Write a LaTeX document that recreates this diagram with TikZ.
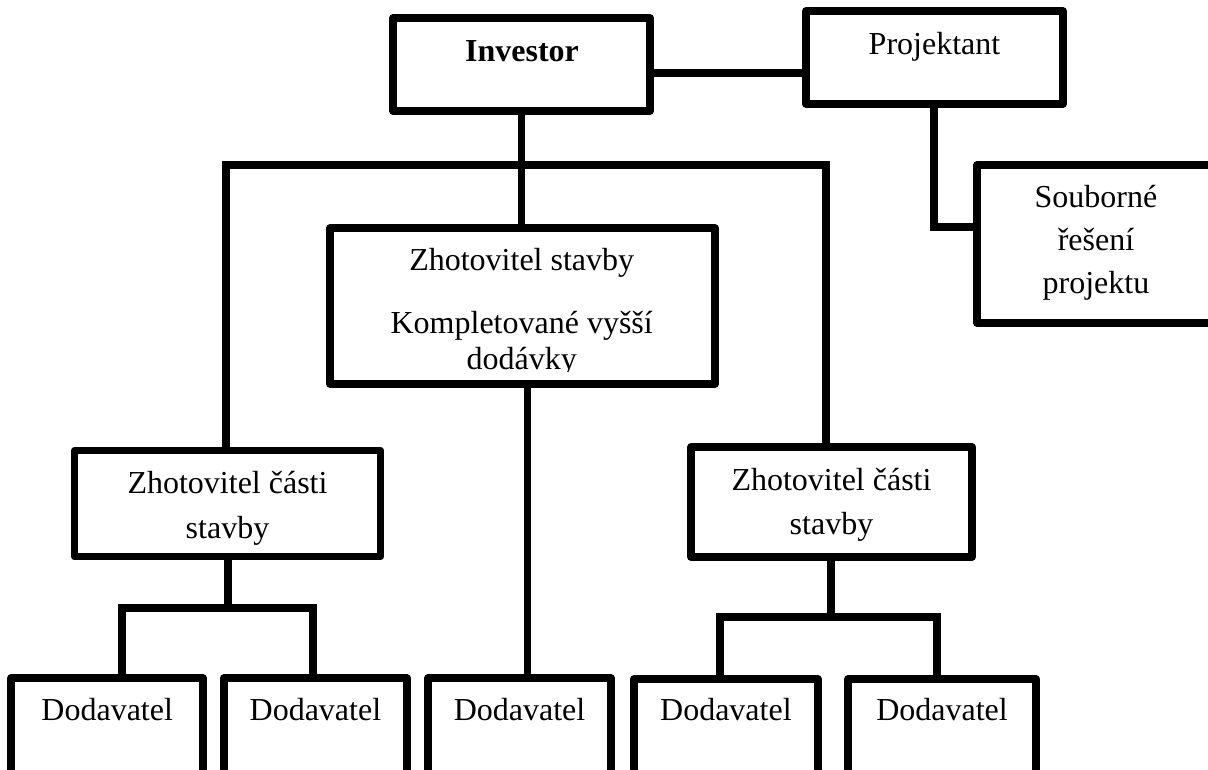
\documentclass[tikz,border=0pt]{standalone}
\usepackage{fontspec}
\setmainfont{Liberation Serif}
\begin{document}
\begin{tikzpicture}[x=1pt,y=-1pt]
\tikzset{
  box/.style={draw=black, line width=7.5pt, line join=round, inner sep=0pt, outer sep=0pt},
  link/.style={draw=black, line width=7.5pt, line join=miter},
  lbl/.style={anchor=base, inner sep=0pt, font=\fontsize{32}{38}\selectfont},
  lblb/.style={anchor=base, inner sep=0pt, font=\fontsize{32}{38}\selectfont\bfseries},
}
\clip (0,0) rectangle (1208,769);

% boxes
\node[box, minimum width=257pt, minimum height=93pt]  (inv)  at (521.5,64.5) {};
\node[box, minimum width=257pt, minimum height=93pt]  (proj) at (934.5,57.5) {};
\node[box, minimum width=238pt, minimum height=158pt] (soub) at (1096,244) {};
\node[box, minimum width=385pt, minimum height=156pt] (zs)   at (522.5,306) {};
\node[box, minimum width=306pt, minimum height=106pt] (zc1)  at (227.6,503.7) {};
\node[box, minimum width=281pt, minimum height=110pt] (zc2)  at (831.5,502) {};
\node[box, minimum width=192pt, minimum height=130pt] (d1) at (107.2,743) {};
\node[box, minimum width=183pt, minimum height=130pt] (d2) at (315.4,743) {};
\node[box, minimum width=183pt, minimum height=130pt] (d3) at (519.5,743) {};
\node[box, minimum width=184pt, minimum height=130pt] (d4) at (725.9,744) {};
\node[box, minimum width=188pt, minimum height=130pt] (d5) at (942,744) {};

% labels
\node[lblb] (tinv)  at (522,61) {Investor};
\node[lbl]  (tproj) at (934.5,54) {Projektant};
\node[lbl]  (ts1) at (1096,207) {Souborné};
\node[lbl]  (ts2) at (1096,250) {řešení};
\node[lbl]  (ts3) at (1096,293) {projektu};
\node[lbl]  (tz1) at (521.7,270) {Zhotovitel stavby};
\node[lbl]  (tz2) at (521.7,333) {Kompletované vyšší};
\begin{scope}
  \clip (326,224) rectangle (719,371.5);
  \node[lbl] (tz3) at (521.7,369) {dodávky};
\end{scope}
\node[lbl] (tc1a) at (227.5,493) {Zhotovitel části};
\node[lbl] (tc1b) at (227.5,538) {stavby};
\node[lbl] (tc2a) at (831.5,490) {Zhotovitel části};
\node[lbl] (tc2b) at (831.5,534) {stavby};
\node[lbl] (td1) at (107.2,720) {Dodavatel};
\node[lbl] (td2) at (315.4,720) {Dodavatel};
\node[lbl] (td3) at (519.5,720) {Dodavatel};
\node[lbl] (td4) at (725.9,720) {Dodavatel};
\node[lbl] (td5) at (942,720) {Dodavatel};

% connectors
\coordinate (ip) at (0,73);
\draw[link] (inv.east |- ip) -- (proj.west |- ip);

\coordinate (busL) at (226,165);
\coordinate (busR) at (826,165);
\draw[link] (inv.south) -- (inv.south |- zs.north);
\draw[link] (zc1.north -| busL) -- (busL) -- (busR) -- (zc2.north -| busR);

\coordinate (s1) at (228,608);
\coordinate (b1a) at (122,608);
\coordinate (b1b) at (313,608);
\draw[link] (zc1.south -| s1) -- (s1);
\draw[link] (d1.north -| b1a) -- (b1a) -- (b1b) -- (d2.north -| b1b);

\coordinate (s2) at (831,617);
\coordinate (b2a) at (720,617);
\coordinate (b2b) at (937,617);
\draw[link] (zc2.south -| s2) -- (s2);
\draw[link] (d4.north -| b2a) -- (b2a) -- (b2b) -- (d5.north -| b2b);

\coordinate (z3) at (527.5,0);
\draw[link] (zs.south -| z3) -- (d3.north -| z3);

\coordinate (pk) at (934,227);
\draw[link] (proj.south -| pk) -- (pk) -- (soub.west |- pk);
\end{tikzpicture}
\end{document}
